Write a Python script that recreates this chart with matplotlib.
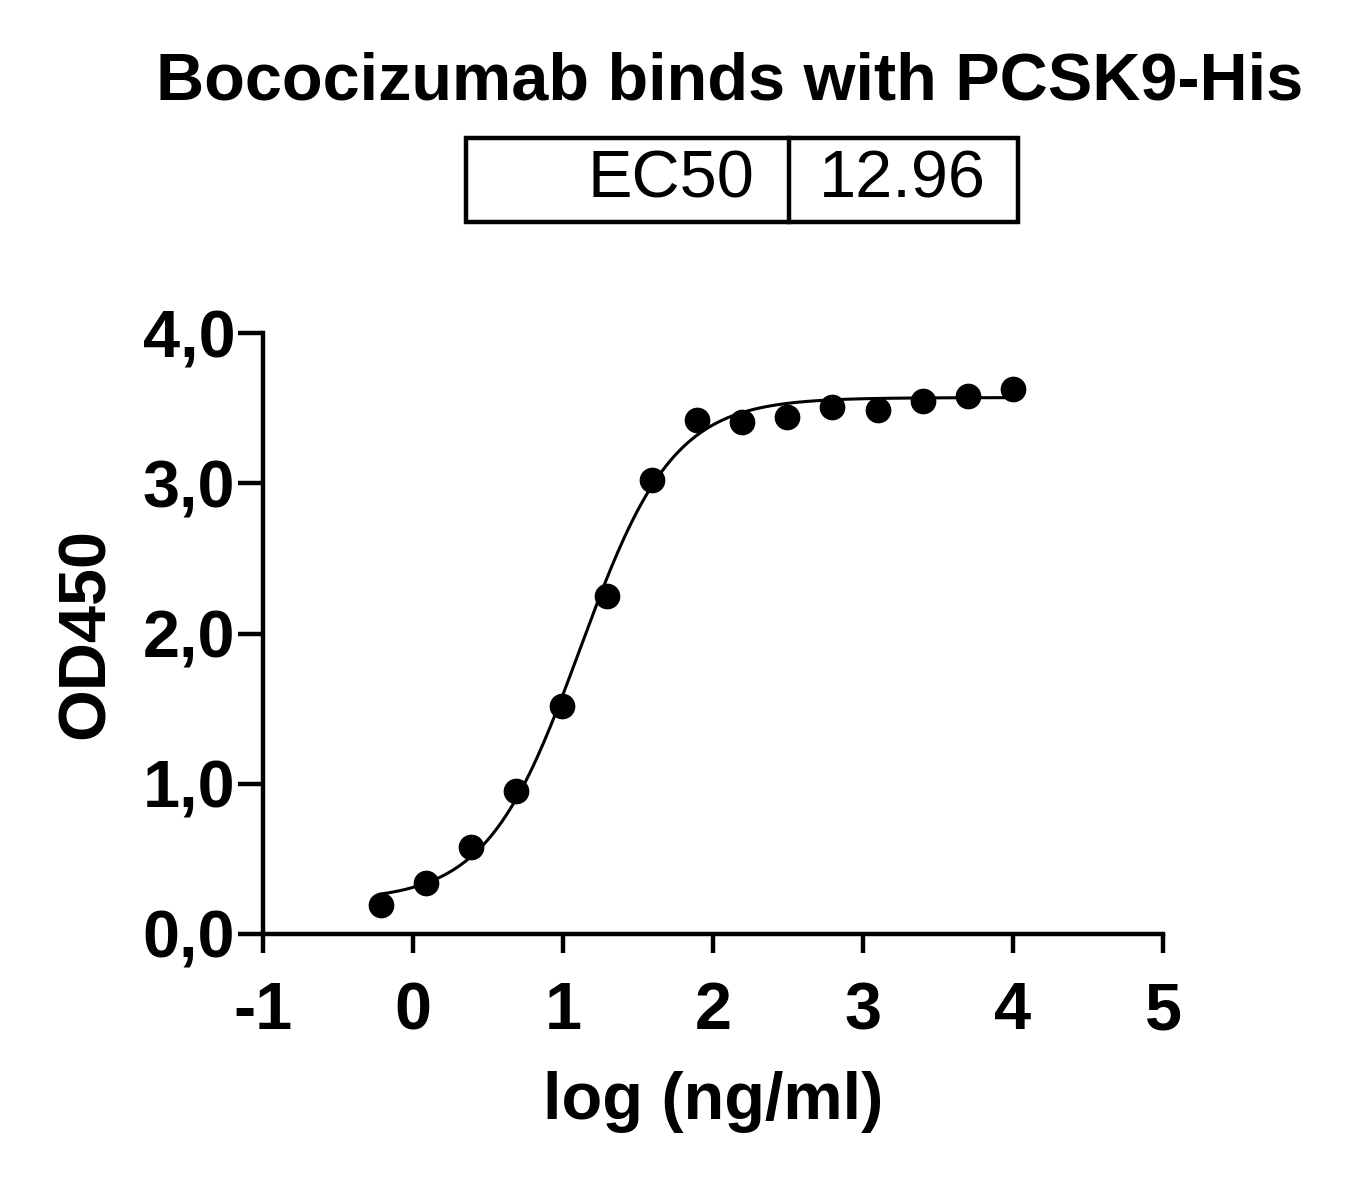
import numpy as np
import matplotlib
matplotlib.use('Agg')
import matplotlib.pyplot as plt
from matplotlib.patches import Rectangle

plt.rcParams['font.family'] = ['Liberation Sans', 'DejaVu Sans']

# dilution series, log10(ng/ml)
log_conc = [4.000, 3.699, 3.398, 3.097, 2.796, 2.495, 2.194, 1.893,
            1.592, 1.291, 0.990, 0.689, 0.388, 0.087, -0.214]
od450 = [3.63, 3.58, 3.55, 3.49, 3.51, 3.44, 3.41, 3.42,
         3.02, 2.25, 1.52, 0.95, 0.58, 0.34, 0.19]

# 4PL fit (as shown on the plot)
ec50 = 12.96
fit_bottom = 0.22
fit_top = 3.57
fit_hill = 1.4

title = 'Bococizumab binds with PCSK9-His'
xticks = [-1, 0, 1, 2, 3, 4, 5]
yticks = [0, 1, 2, 3, 4]
ytick_labels = ['0,0', '1,0', '2,0', '3,0', '4,0']

W, H = 1362, 1182
fig = plt.figure(figsize=(W / 100, H / 100), dpi=100)
ax = fig.add_axes([263 / W, 1 - 934 / H, 900 / W, 601 / H])

xs = np.linspace(min(log_conc), max(log_conc), 300)
ys = fit_bottom + (fit_top - fit_bottom) / (1 + 10 ** ((np.log10(ec50) - xs) * fit_hill))
ax.plot(xs, ys, color='black', lw=2.2, zorder=2)
ax.plot(log_conc, od450, 'o', color='black', ms=17.5, mec='black', zorder=3, clip_on=False)

ax.set_xlim(-1, 5)
ax.set_ylim(0, 4)
ax.set_xticks(xticks)
ax.set_xticklabels([str(t) for t in xticks])
ax.set_yticks(yticks)
ax.set_yticklabels(ytick_labels)

for s in ['top', 'right']:
    ax.spines[s].set_visible(False)
for s in ['left', 'bottom']:
    ax.spines[s].set_linewidth(3.2)
ax.tick_params(axis='y', length=18, width=3.2, labelsize=48, pad=2)
ax.tick_params(axis='x', length=14, width=3.2, labelsize=48, pad=20)
for lab in ax.get_xticklabels() + ax.get_yticklabels():
    lab.set_fontweight('bold')

ax.set_xlabel('log (ng/ml)', fontsize=48, fontweight='bold', labelpad=20)
ax.set_ylabel('OD450', fontsize=48, fontweight='bold', labelpad=18)

fig.text(730 / W, 1 - 83 / H, title, ha='center', va='center',
         fontsize=48, fontweight='bold')

# EC50 box
x0, x1, xd = 466 / W, 1018 / W, 789 / W
y0, y1 = 1 - 222 / H, 1 - 138 / H
fig.patches.append(Rectangle((x0, y0), x1 - x0, y1 - y0, transform=fig.transFigure,
                             fill=False, lw=3.2, ec='black'))
fig.add_artist(plt.Line2D([xd, xd], [y0, y1], transform=fig.transFigure, lw=3.2, color='black'))
fig.text(754 / W, (y0 + y1) / 2, 'EC50', ha='right', va='center', fontsize=48)
fig.text(902 / W, (y0 + y1) / 2, f'{ec50:.2f}', ha='center', va='center', fontsize=48)

fig.savefig('out.png', dpi=100)
